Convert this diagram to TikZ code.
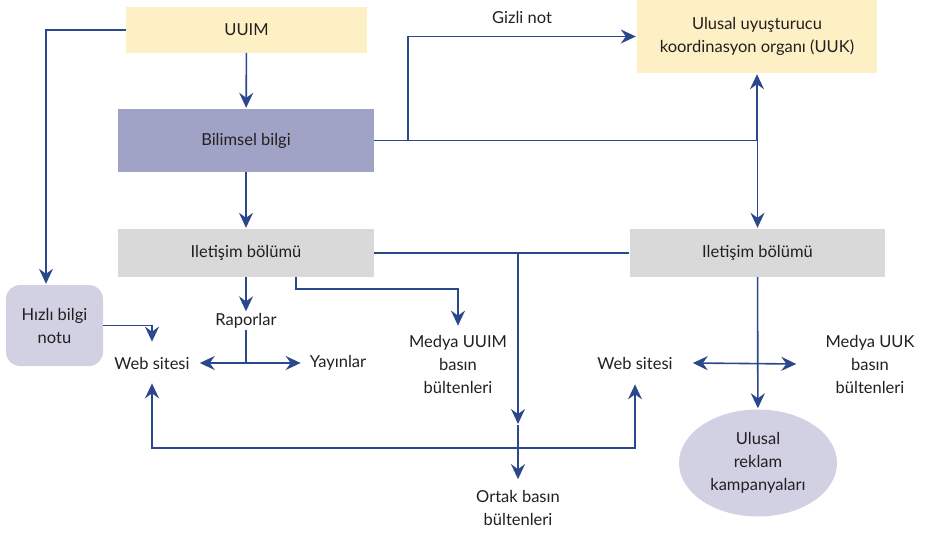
\documentclass[tikz,border=0pt]{standalone}
\usepackage{fontspec}
\setmainfont{Lato}
\usepackage{tikz}
\usetikzlibrary{arrows.meta, positioning, shapes.geometric}

\definecolor{lnblue}{RGB}{44,72,140}
\definecolor{boxyel}{RGB}{253,240,196}
\definecolor{boxvio}{RGB}{160,163,197}
\definecolor{boxgry}{RGB}{217,217,217}
\definecolor{boxlav}{RGB}{209,209,227}
\definecolor{txt}{RGB}{35,31,32}

\tikzset{
  box/.style={rectangle, inner sep=0pt, align=center, text=txt},
  lbl/.style={align=center, text=txt, inner sep=2pt},
  tip/.tip={Stealth[length=15pt,width=14pt,inset=5pt]},
  ln/.style={draw=lnblue, line width=1.6pt},
  arr/.style={ln, -tip},
  dbl/.style={ln, tip-tip}
}

\begin{document}
\begin{tikzpicture}[x=1pt, y=-1pt, shorten >=1pt, font=\fontsize{16.5}{23}\selectfont]
            \useasboundingbox (0,0) rectangle (933,535);
            \node [box, fill=boxyel, minimum width=241, minimum height=46] (uuim) at (246.5,30) {UUIM};
            \node [box, fill=boxvio, minimum width=256, minimum height=63] (bilgi) at (246,140.5) {Bilimsel bilgi};
            \node [box, fill=boxgry, minimum width=256, minimum height=48] (iletL) at (246,253) {Iletişim bölümü};
            \node [box, fill=boxgry, minimum width=255, minimum height=48] (iletR) at (757.5,253) {Iletişim bölümü};
            \node [box, fill=boxyel, minimum width=240, minimum height=73] (uuk) at (757,36.5) {Ulusal uyuşturucu\\koordinasyon organı (UUK)};
            \node [box, fill=boxlav, rounded corners=14pt, minimum width=97, minimum height=81] (hizli) at (54.5,325.5) {Hızlı bilgi\\notu};
            \node [box, fill=boxlav, ellipse, minimum width=158, minimum height=107] (kamp) at (758,463) {Ulusal\\reklam\\kampanyaları};

            \node [lbl] (gizli) at (522,17) {Gizli not};
            \node [lbl, inner ysep=1pt] (rapor) at (246,321) {Raporlar};
            \node [lbl, inner xsep=9pt, inner ysep=14pt] (webL) at (152,363) {Web sitesi};
            \node [lbl, inner xsep=8pt] (yayin) at (338,363) {Yayınlar};
            \node [lbl, inner ysep=8pt] (medUUIM) at (458,364) {Medya UUIM\\basın\\bültenleri};
            \node [lbl, inner xsep=20pt, inner ysep=14pt] (webR) at (635,363) {Web sitesi};
            \node [lbl, inner xsep=28pt] (medUUK) at (870,364) {Medya UUK\\basın\\bültenleri};
            \node [lbl, inner ysep=10pt] (ortak) at (518,508) {Ortak basın\\bültenleri};

            \coordinate (hz) at (46,30);
            \coordinate (gz) at (408,140);
            \coordinate (ob) at (518,253);
            \coordinate (obm) at (518,425);
            \coordinate (mk) at (296,277);
            \coordinate (rp) at (246,363);
            \coordinate (bar) at (518,448);

            \draw[arr] (uuim) -- (bilgi);
            \draw[arr] (bilgi) -- (iletL);
            \draw[arr] (iletL) -- (rapor);
            \draw[arr] (iletR) -- (kamp);
            \draw[ln] (bilgi.east) -- (bilgi.east -| uuk.south);
            \draw[arr] (bilgi.east -| uuk.south) -- (uuk.south);
            \draw[arr] (bilgi.east -| iletR.north) -- (iletR.north);
            \draw[ln] (iletL.east) -- (iletR.west);
            \draw[arr] (ob) -- (obm);
            \draw[arr] (obm) -- (ortak);
            \draw[ln] (rapor) -- (rp);
            \draw[arr] (rp) -- (webL);
            \draw[arr] (rp) -- (yayin);
            \draw[arr] (uuim.west) -- (hz) -- (hz |- hizli.north);
            \draw[arr] (gz) |- (uuk.west);
            \draw[arr] (mk) -- ++(0,12) -| (medUUIM.north);
            \draw[arr] (hizli.east) -| (webL.north);
            \draw[dbl] (webL.south) |- (bar) -| (webR.south);
            \draw[dbl] (webR.east) -- (medUUK.west);
\end{tikzpicture}
\end{document}
